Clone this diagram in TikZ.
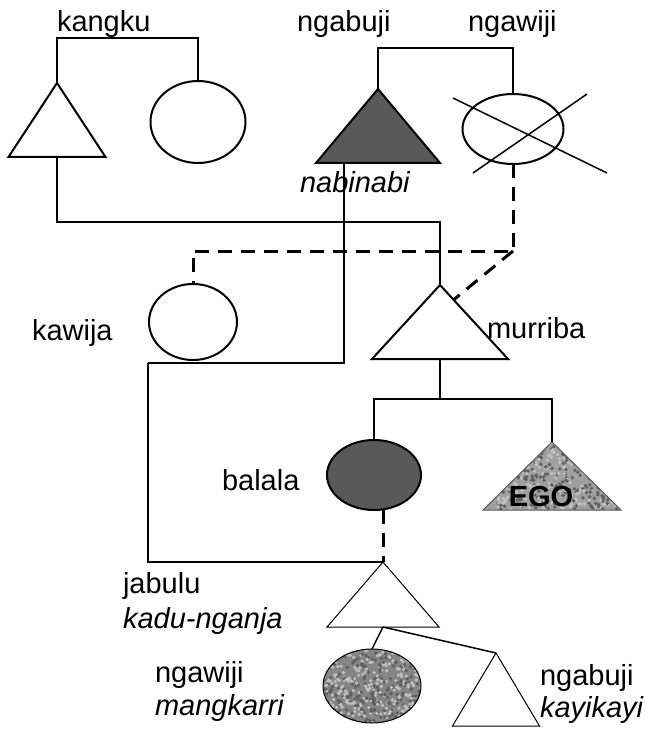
\documentclass[tikz,border=0pt]{standalone}
\usepackage{fontspec}
\setmainfont{Liberation Sans}
\usetikzlibrary{shapes.geometric, calc, positioning}
\definecolor{darkfill}{HTML}{595959}
\definecolor{speckbase}{HTML}{858585}
\definecolor{speckpale}{HTML}{A0A0A0}
\definecolor{speckdark}{HTML}{606060}
\definecolor{specklight}{HTML}{C2C2C2}

\begin{document}
\begin{tikzpicture}[
    x=1pt, y=-1pt,
    every node/.style={font=\fontsize{29}{34}\selectfont, inner sep=0pt, outer sep=0pt},
    male/.style={isosceles triangle, isosceles triangle stretches,
      shape border rotate=90, draw, line width=2pt, anchor=apex},
    female/.style={ellipse, draw, line width=2pt},
    tie/.style={line width=1.5pt},
    wed/.style={line width=3pt, dash pattern=on 14pt off 9pt},
    lbl/.style={anchor=base west},
    term/.style={anchor=base west, font=\fontsize{29}{34}\selectfont\itshape},
    speckled/.style={fill=#1, path picture={
      \foreach \k in {1,...,260} {
        \fill[speckdark] let \p1=(path picture bounding box.south west),
          \p2=(path picture bounding box.north east) in
          ({\x1+rnd*(\x2-\x1)},{\y1+rnd*(\y2-\y1)}) circle (1.9pt);
        \fill[specklight] let \p1=(path picture bounding box.south west),
          \p2=(path picture bounding box.north east) in
          ({\x1+rnd*(\x2-\x1)},{\y1+rnd*(\y2-\y1)}) circle (1.8pt);
      }}},
  ]
  \pgfmathsetseed{17}
  \useasboundingbox (0,0) rectangle (650,730);

  % === Top generation ===
  \node[male, minimum width=97pt, minimum height=74pt] (kangku) at (57,83) {};
  \node[female, minimum width=95pt, minimum height=82pt] (kangkuw) at (198,122) {};
  \node[male, fill=darkfill, minimum width=124pt, minimum height=74pt] (ngabuji) at (378,89) {};
  \node[female, minimum width=101pt, minimum height=70pt] (ngawiji) at (513,129) {};

  \node[lbl] (lkangku) at (57,32) {kangku};
  \node[lbl] (lngabuji) at (297,32) {ngabuji};
  \node[lbl] (lngawiji) at (468,32) {ngawiji};
  \node[term] (lnabinabi) at (300,193) {nabinabi};

  % marriage brackets
  \draw[tie] (kangku.apex) -- ++(0,-45) -| (kangkuw.north);
  \draw[tie] (ngabuji.apex) -- ++(0,-41) -| (ngawiji.north);

  % ngawiji is crossed out
  \draw[tie] ($(ngawiji.center)+(-60,-31)$) -- ($(ngawiji.center)+(94,44)$);
  \draw[tie] ($(ngawiji.center)+(-40,44)$) -- ($(ngawiji.center)+(74,-35)$);

  % === Middle generation ===
  \node[female, minimum width=88pt, minimum height=76pt] (kawija) at (193,322) {};
  \node[male, minimum width=136pt, minimum height=74pt] (murriba) at (440,285) {};

  \node[lbl] (lkawija) at (32,340) {kawija};
  \node[lbl] (lmurriba) at (487,338) {murriba};

  \draw[tie] (kangku.lower side) -- ++(0,65) -| (murriba.apex);

  \coordinate (wcorner) at (ngawiji.south |- 0,251);
  \draw[wed] (ngawiji.south) -- (wcorner) -| (kawija.north);
  \draw[wed] (wcorner) -- ($(murriba.apex)!0.2!(murriba.right corner)$);

  \coordinate (nbfoot) at ($(ngabuji.lower side)+(-34,0)$);
  \coordinate (nbturn) at (148,363);
  \draw[tie] (nbfoot) |- (nbturn);

  % === EGO and sister ===
  \node[female, fill=darkfill, minimum width=94pt, minimum height=70pt] (balala) at (374,475) {};
  \node[male, speckled=speckpale, draw=darkfill, line width=1pt, minimum width=138pt, minimum height=68pt] (ego) at (552,442) {};
  \node[font=\fontsize{29}{34}\selectfont\bfseries, anchor=base] (legoname) at (541,506) {EGO};
  \node[lbl] (lbalala) at (222,490) {balala};

  \draw[tie] (murriba.lower side) -- ++(0,40) coordinate (sibs);
  \draw[tie] (sibs) -| (balala.north);
  \draw[tie] (sibs) -| (ego.apex);

  % === Sister's son and his children ===
  \node[male, line width=1pt, minimum width=112pt, minimum height=65pt] (jabulu) at (383,562) {};
  \node[female, speckled=speckbase, line width=1pt, minimum width=98pt, minimum height=74pt] (mangkarri) at (372,686) {};
  \node[male, line width=1pt, minimum width=87pt, minimum height=73pt] (kayikayi) at (496,653) {};

  \node[lbl] (ljabulu) at (123,593) {jabulu};
  \node[term] (lkadu) at (123,628) {kadu-nganja};
  \node[lbl] (lngawiji2) at (155,682) {ngawiji};
  \node[term] (lmangkarri) at (155,715) {mangkarri};
  \node[lbl] (lngabuji2) at (540,685) {ngabuji};
  \node[term] (lkayikayi) at (540,717) {kayikayi};

  \draw[tie] (nbturn) |- (jabulu.apex);
  \draw[wed] (balala.south -| jabulu.apex) -- (jabulu.apex);
  \draw[tie] (jabulu.lower side) -- (mangkarri.north);
  \draw[tie] (jabulu.lower side) -- (kayikayi.apex);

\end{tikzpicture}
\end{document}
